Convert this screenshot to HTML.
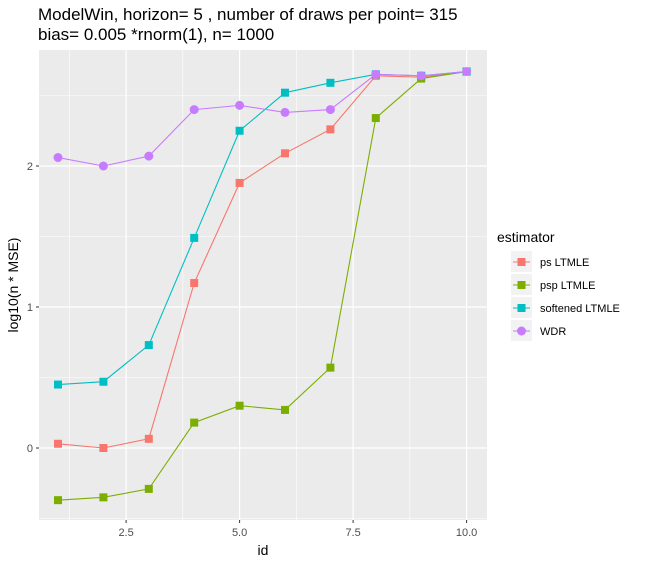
<!DOCTYPE html>
<html><head><meta charset="utf-8"><style>
body{margin:0;background:#fff;font-family:"Liberation Sans","DejaVu Sans",sans-serif}
</style></head><body>
<svg id="chart" width="645" height="565" xmlns="http://www.w3.org/2000/svg" font-family="Liberation Sans, DejaVu Sans, sans-serif">
<text x="38" y="20" font-size="17" fill="#000">ModelWin, horizon= 5 , number of draws per point= 315</text>
<text x="38" y="40" font-size="17" fill="#000">bias= 0.005 *rnorm(1), n= 1000</text>
<rect x="39" y="50" width="448" height="470" fill="#EBEBEB"/>
<g id="grid"></g><g id="series"></g><g id="axes"></g>
<text x="263" y="555" font-size="14" text-anchor="middle">id</text>
<text transform="translate(18,285) rotate(-90)" font-size="14" text-anchor="middle">log10(n * MSE)</text>
<text x="497" y="242" font-size="14">estimator</text>
<g id="legend"></g>
</svg>
<script>
const ids=[1,2,3,4,5,6,7,8,9,10];
const psLTMLE=[0.03,0.0,0.065,1.17,1.88,2.09,2.26,2.64,2.63,2.67];
const pspLTMLE=[-0.37,-0.35,-0.29,0.18,0.30,0.27,0.57,2.34,2.62,2.67];
const softLTMLE=[0.45,0.47,0.73,1.49,2.25,2.52,2.59,2.65,2.64,2.67];
const wdr=[2.06,2.0,2.07,2.40,2.43,2.38,2.40,2.65,2.64,2.67];
const seriesNames=["ps LTMLE","psp LTMLE","softened LTMLE","WDR"];
const xTicks=[2.5,5.0,7.5,10.0];
const yTicks=[0,1,2];
const colors=["#F8766D","#7CAE00","#00BFC4","#C77CFF"];
const NS="http://www.w3.org/2000/svg";
const X=v=>58+(v-1)*45.4, Y=v=>448-v*141;
function mk(t,a,p){const e=document.createElementNS(NS,t);for(const k in a)e.setAttribute(k,a[k]);document.getElementById(p).appendChild(e);return e;}
const xMinor=[1.25,3.75,6.25,8.75], yMinor=[-0.5,0.5,1.5,2.5];
xMinor.forEach(v=>{const l=mk('line',{x1:X(v),x2:X(v),y1:50,y2:520,stroke:'#fff','stroke-width':0.6},'grid');});
yMinor.forEach(v=>{const l=mk('line',{x1:39,x2:487,y1:Y(v),y2:Y(v),stroke:'#fff','stroke-width':0.6},'grid');});
xTicks.forEach(v=>{const l=mk('line',{x1:X(v),x2:X(v),y1:50,y2:520,stroke:'#fff','stroke-width':1.2},'grid');
const t=mk('line',{x1:X(v),x2:X(v),y1:520,y2:523,stroke:'#333'},'axes');
const s=mk('text',{x:X(v),y:536,'font-size':11,fill:'#4D4D4D','text-anchor':'middle'},'axes');s.textContent=v.toFixed(1);});
yTicks.forEach(v=>{const l=mk('line',{x1:39,x2:487,y1:Y(v),y2:Y(v),stroke:'#fff','stroke-width':1.2},'grid');
const t=mk('line',{x1:36,x2:39,y1:Y(v),y2:Y(v),stroke:'#333'},'axes');
const s=mk('text',{x:33,y:Y(v)+4,'font-size':11,fill:'#4D4D4D','text-anchor':'end'},'axes');s.textContent=v;});
const all=[psLTMLE,pspLTMLE,softLTMLE,wdr];
all.forEach((d,i)=>{const c=colors[i];
const p=mk('polyline',{points:d.map((v,j)=>X(ids[j])+','+Y(v)).join(' '),fill:'none',stroke:c,'stroke-width':1.1},'series');
d.forEach((v,j)=>{let m;if(i<3)m=mk('rect',{x:X(ids[j])-4,y:Y(v)-4,width:8,height:8,fill:c},'series');else m=mk('circle',{cx:X(ids[j]),cy:Y(v),r:4.5,fill:c},'series');
});
const ly=262+i*23;
const bg=mk('rect',{x:511,y:ly-11,width:21,height:21,fill:'#F2F2F2'},'legend');
const ll=mk('line',{x1:513,x2:530,y1:ly,y2:ly,stroke:c,'stroke-width':1.1},'legend');
let k;if(i<3)k=mk('rect',{x:517.5,y:ly-4,width:8,height:8,fill:c},'legend');else k=mk('circle',{cx:521.5,cy:ly,r:4.5,fill:c},'legend');

const t=mk('text',{x:540,y:ly+4,'font-size':11,fill:'#000'},'legend');t.textContent=seriesNames[i];});
</script>
</body></html>
